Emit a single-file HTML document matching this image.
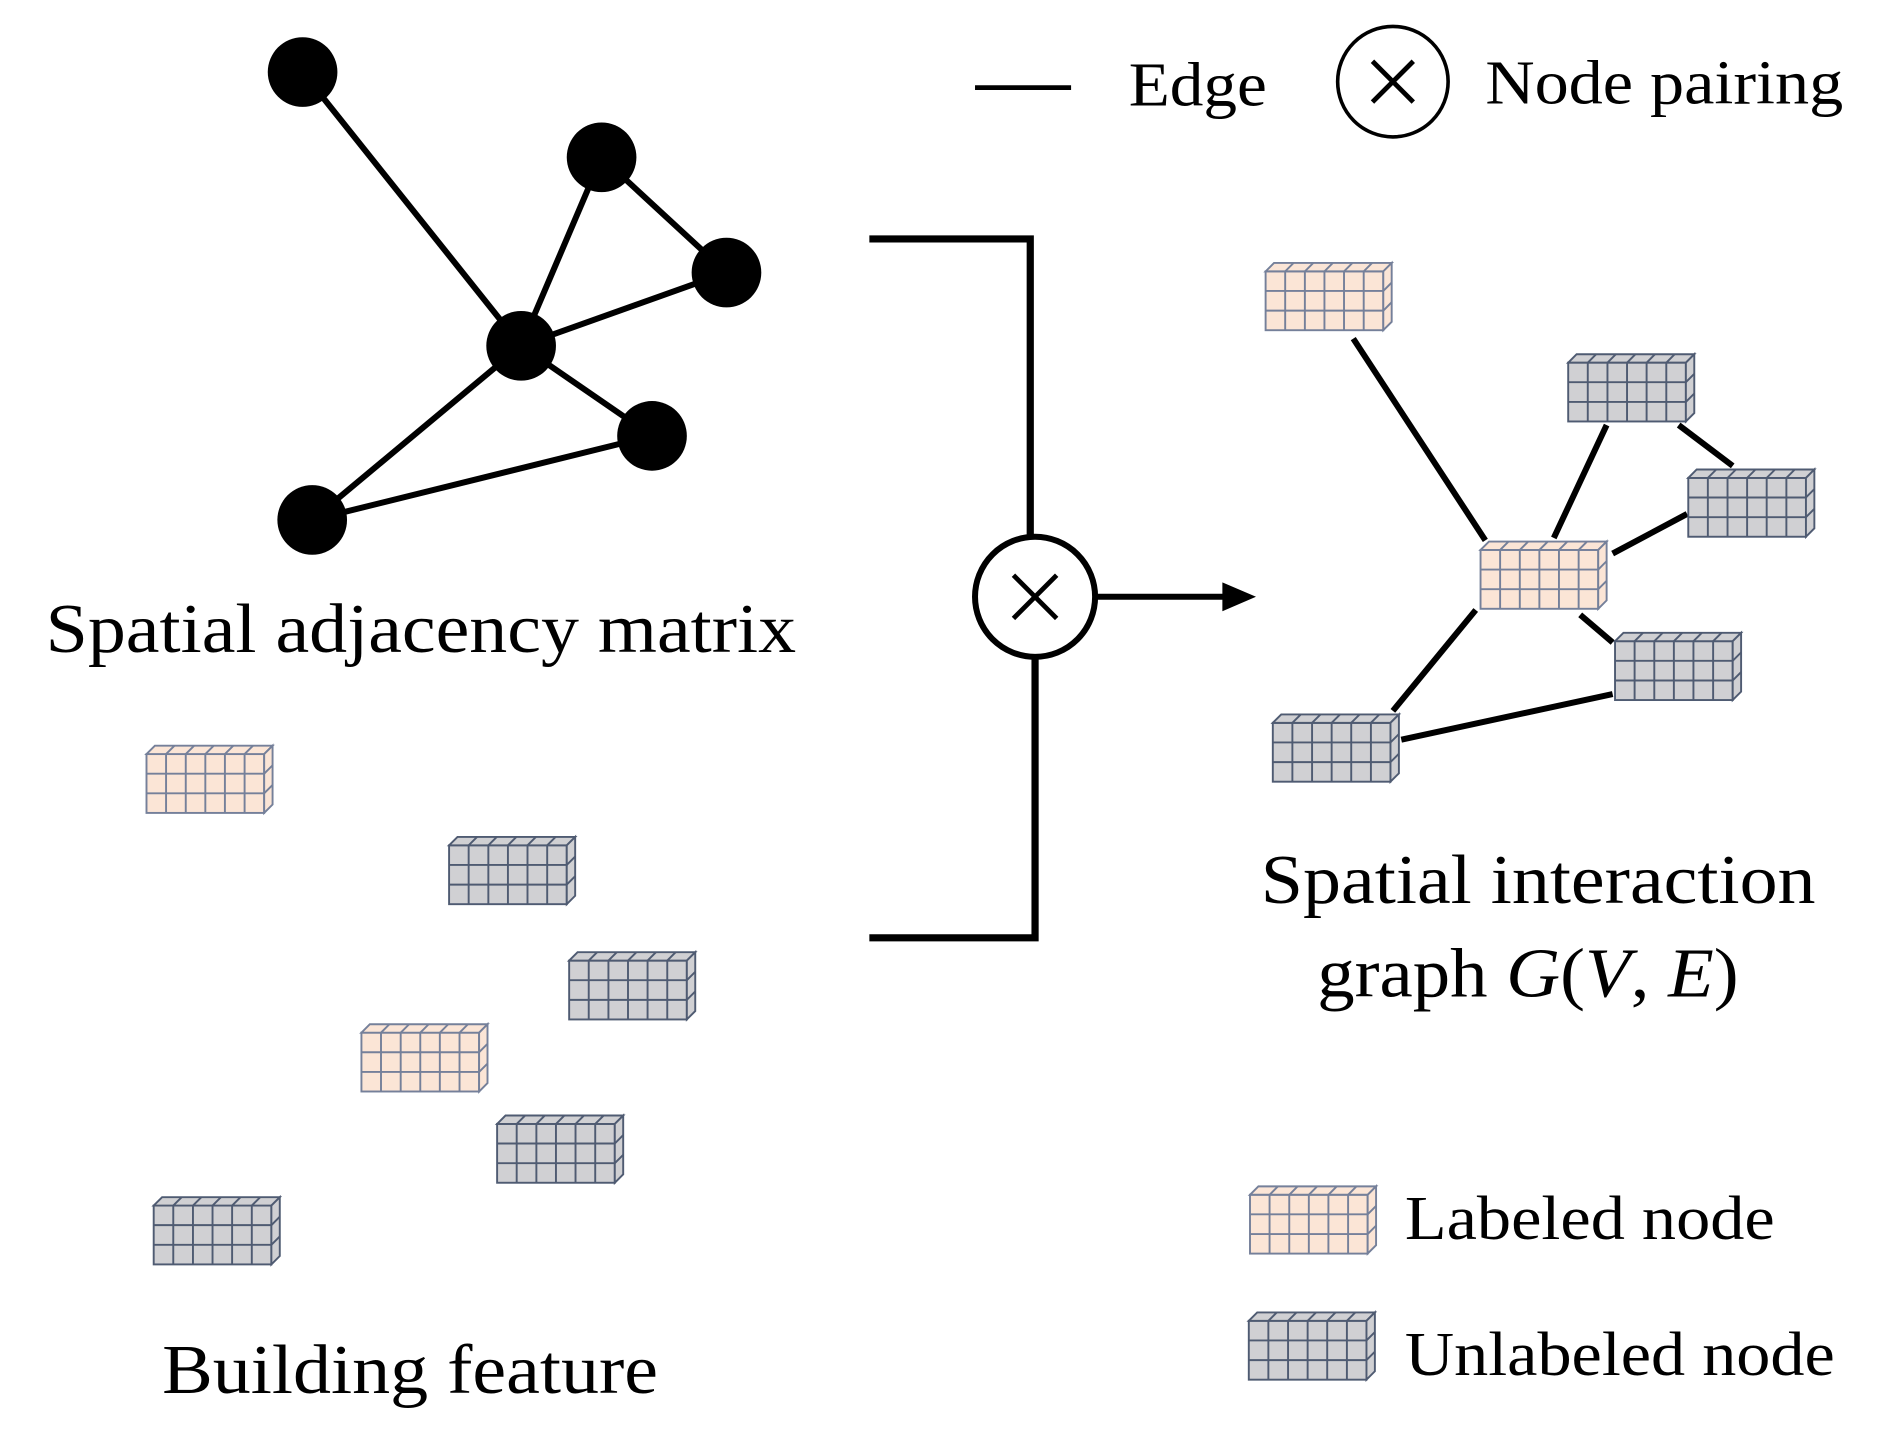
<!DOCTYPE html>
<html><head><meta charset="utf-8"><style>html,body{margin:0;padding:0;background:#fff}svg{display:block}</style></head>
<body>
<svg width="1884" height="1433" viewBox="0 0 1569 1193.4" xmlns="http://www.w3.org/2000/svg">
<defs>
<g id="cp"><g stroke="#75809a" stroke-width="1.6" fill="#fbe5d6">
<rect x="0" y="7" width="98" height="49"/><polygon points="0,7 7,0 105,0 98,7"/><polygon points="98,7 105,0 105,49 98,56"/>
<path d="M16.3 7V56M32.7 7V56M49 7V56M65.3 7V56M81.7 7V56M0 23.3H98M0 39.7H98M16.3 7L23.3 0M32.7 7L39.7 0M49 7L56 0M65.3 7L72.3 0M81.7 7L88.7 0M98 23.3L105 16.3M98 39.7L105 32.7" fill="none"/></g></g>
<g id="cg"><g stroke="#4f5b72" stroke-width="1.6" fill="#d0d0d3">
<rect x="0" y="7" width="98" height="49"/><polygon points="0,7 7,0 105,0 98,7"/><polygon points="98,7 105,0 105,49 98,56"/>
<path d="M16.3 7V56M32.7 7V56M49 7V56M65.3 7V56M81.7 7V56M0 23.3H98M0 39.7H98M16.3 7L23.3 0M32.7 7L39.7 0M49 7L56 0M65.3 7L72.3 0M81.7 7L88.7 0M98 23.3L105 16.3M98 39.7L105 32.7" fill="none"/></g></g>
</defs>
<g stroke="#000" stroke-width="5" fill="none">
<line x1="252" y1="60" x2="434" y2="288"/><line x1="501" y1="131" x2="434" y2="288"/><line x1="501" y1="131" x2="605" y2="227"/><line x1="605" y1="227" x2="434" y2="288"/><line x1="434" y1="288" x2="543" y2="363"/><line x1="434" y1="288" x2="260" y2="433"/><line x1="260" y1="433" x2="543" y2="363"/>
</g>
<g fill="#000"><circle cx="252" cy="60" r="29"/><circle cx="501" cy="131" r="29"/><circle cx="605" cy="227" r="29"/><circle cx="434" cy="288" r="29"/><circle cx="543" cy="363" r="29"/><circle cx="260" cy="433" r="29"/></g>
<g font-family="Liberation Serif, serif" fill="#000">
<text x="38" y="543" font-size="58" textLength="625" lengthAdjust="spacingAndGlyphs">Spatial adjacency matrix</text>
<text x="135" y="1160" font-size="58" textLength="413" lengthAdjust="spacingAndGlyphs">Building feature</text>
<text x="1050" y="752" font-size="58" textLength="462" lengthAdjust="spacingAndGlyphs">Spatial interaction</text>
<text x="1097" y="830" font-size="58" textLength="351" lengthAdjust="spacingAndGlyphs">graph <tspan font-style="italic">G</tspan>(<tspan font-style="italic">V</tspan>, <tspan font-style="italic">E</tspan>)</text>
<text x="940" y="88" font-size="52" textLength="115" lengthAdjust="spacingAndGlyphs">Edge</text>
<text x="1237" y="86" font-size="52" textLength="298" lengthAdjust="spacingAndGlyphs">Node pairing</text>
<text x="1170" y="1032" font-size="52" textLength="308" lengthAdjust="spacingAndGlyphs">Labeled node</text>
<text x="1170" y="1145" font-size="52" textLength="358" lengthAdjust="spacingAndGlyphs">Unlabeled node</text>
</g>
<line x1="812" y1="73" x2="892" y2="73" stroke="#000" stroke-width="4"/>
<circle cx="1160" cy="68" r="46" fill="none" stroke="#000" stroke-width="3"/>
<path d="M1143 51L1177 85M1177 51L1143 85" stroke="#000" stroke-width="4"/>
<g stroke="#000" stroke-width="6" fill="none">
<polyline points="724,199 858,199 858,447"/>
<polyline points="862,547 862,781 724,781"/>
<circle cx="862" cy="497" r="50" stroke-width="5"/>
<path d="M844 479L880 515M880 479L844 515" stroke-width="4"/>
<line x1="912" y1="497" x2="1022" y2="497" stroke-width="5"/>
</g>
<polygon points="1018,485 1046,497 1018,509" fill="#000"/>
<g stroke="#000" stroke-width="5">
<line x1="1127" y1="282" x2="1237" y2="450"/><line x1="1338" y1="354" x2="1294" y2="448"/><line x1="1398" y1="354" x2="1443" y2="388"/><line x1="1343" y1="461" x2="1405" y2="428"/><line x1="1316" y1="512" x2="1343" y2="535"/><line x1="1229" y1="508" x2="1160" y2="592"/><line x1="1167" y1="616" x2="1343" y2="578"/>
</g>
<use href="#cp" x="122" y="621"/><use href="#cg" x="374" y="697"/><use href="#cg" x="474" y="793"/><use href="#cp" x="301" y="853"/><use href="#cg" x="414" y="929"/><use href="#cg" x="128" y="997"/>
<use href="#cp" x="1054" y="219"/><use href="#cg" x="1306" y="295"/><use href="#cg" x="1406" y="391"/><use href="#cp" x="1233" y="451"/><use href="#cg" x="1345" y="527"/><use href="#cg" x="1060" y="595"/>
<use href="#cp" x="1041" y="988"/><use href="#cg" x="1040" y="1093"/>
</svg>
</body></html>
